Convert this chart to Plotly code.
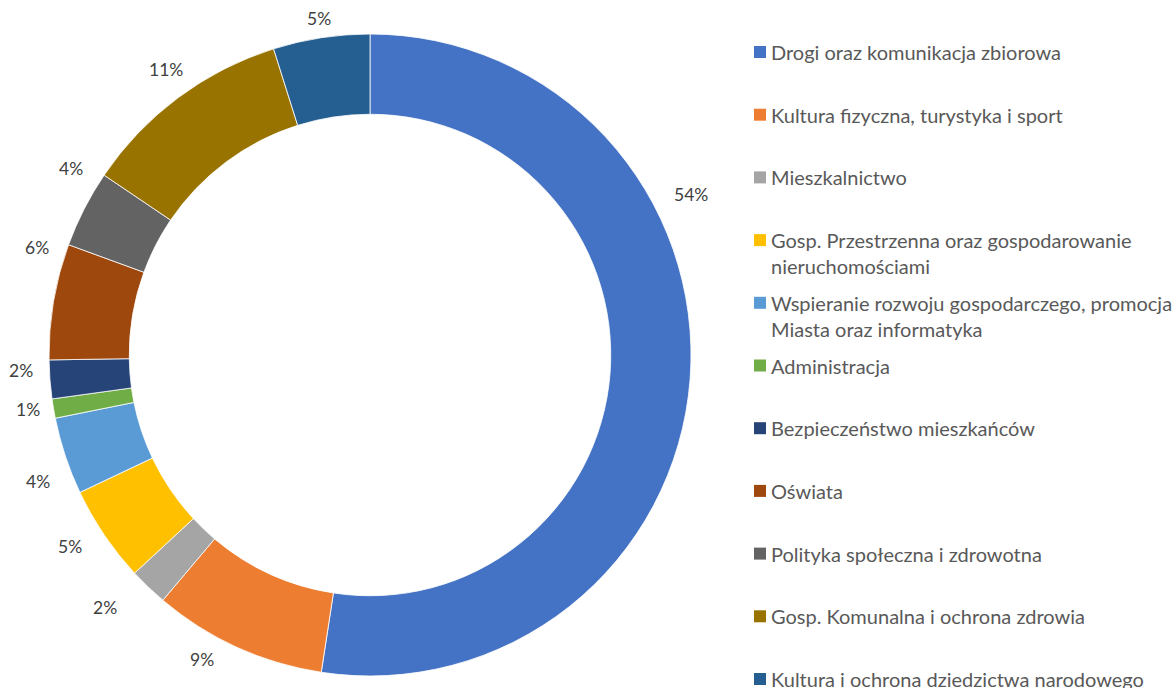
import math
import plotly.graph_objects as go

# Budget shares by area (percent)
categories = [
    "Drogi oraz komunikacja zbiorowa",
    "Kultura fizyczna, turystyka i sport",
    "Mieszkalnictwo",
    "Gosp. Przestrzenna oraz gospodarowanie nieruchomościami",
    "Wspieranie rozwoju gospodarczego, promocja Miasta oraz informatyka",
    "Administracja",
    "Bezpieczeństwo mieszkańców",
    "Oświata",
    "Polityka społeczna i zdrowotna",
    "Gosp. Komunalna i ochrona zdrowia",
    "Kultura i ochrona dziedzictwa narodowego",
]
shares = [54, 9, 2, 5, 4, 1, 2, 6, 4, 11, 5]

# Legend text broken into display lines
legend_lines = [
    ["Drogi oraz komunikacja zbiorowa"],
    ["Kultura fizyczna, turystyka i sport"],
    ["Mieszkalnictwo"],
    ["Gosp. Przestrzenna oraz gospodarowanie", "nieruchomościami"],
    ["Wspieranie rozwoju gospodarczego, promocja", "Miasta oraz informatyka"],
    ["Administracja"],
    ["Bezpieczeństwo mieszkańców"],
    ["Oświata"],
    ["Polityka społeczna i zdrowotna"],
    ["Gosp. Komunalna i ochrona zdrowia"],
    ["Kultura i ochrona dziedzictwa narodowego"],
]

colors = ["#4472C4", "#ED7D31", "#A5A5A5", "#FFC000", "#5B9BD5", "#70AD47",
          "#264478", "#9E480E", "#636363", "#997300", "#255E91"]

# Label placement: angular nudge (deg) from slice middle and radius in ring radii
label_shift = [-30.9, 4.4, 2.7, 1.5, -2.5, 0.5, 1.8, 8.2, 4.8, 1.2, 0.1]
label_radius = [1.117, 1.082, 1.139, 1.110, 1.106, 1.079, 1.088, 1.090, 1.097, 1.094, 1.059]

W, H = 1174, 688
CX, CY, R = 370, 355, 321
FONT = "Lato"
TEXT_GREY = "#595959"
LABEL_GREY = "#404040"

fig = go.Figure(go.Pie(
    labels=categories,
    values=shares,
    sort=False,
    direction="clockwise",
    rotation=0,
    hole=0.75,
    marker=dict(colors=colors, line=dict(color="white", width=0.8)),
    textinfo="none",
    hoverinfo="label+value",
    showlegend=False,
    domain=dict(x=[(CX - R) / W, (CX + R) / W], y=[(H - CY - R) / H, (H - CY + R) / H]),
))

annotations = []
shapes = []

# Percentage labels around the ring
total = sum(shares)
start = 0.0
for v, shift, rr in zip(shares, label_shift, label_radius):
    mid = (start + v / 2) / total * 360.0
    start += v
    ang = math.radians(mid + shift)
    px = CX + rr * R * math.sin(ang)
    py = CY - rr * R * math.cos(ang)
    annotations.append(dict(
        x=px / W, y=(H - py) / H, xref="paper", yref="paper",
        text=f"{v}%", showarrow=False, xanchor="center", yanchor="middle",
        font=dict(family=FONT, size=17.5, color=LABEL_GREY),
    ))

# Legend on the right
LEG_X, LEG_Y0, LEG_STEP, LINE_STEP, SQ = 754, 52, 62.7, 26, 12
for i, (lines, col) in enumerate(zip(legend_lines, colors)):
    yc = LEG_Y0 + i * LEG_STEP
    shapes.append(dict(
        type="rect", xref="paper", yref="paper",
        x0=LEG_X / W, x1=(LEG_X + SQ) / W,
        y0=(H - yc - SQ / 2) / H, y1=(H - yc + SQ / 2) / H,
        fillcolor=col, line=dict(width=0),
    ))
    for j, line in enumerate(lines):
        ly = yc + j * LINE_STEP
        annotations.append(dict(
            x=(LEG_X + SQ + 3) / W, y=(H - ly) / H, xref="paper", yref="paper",
            text=line, showarrow=False, xanchor="left", yanchor="middle",
            font=dict(family=FONT, size=20, color=TEXT_GREY),
        ))

fig.update_layout(
    width=W, height=H,
    margin=dict(l=0, r=0, t=0, b=0),
    paper_bgcolor="white",
    plot_bgcolor="white",
    annotations=annotations,
    shapes=shapes,
)

fig.write_html("out.html")
